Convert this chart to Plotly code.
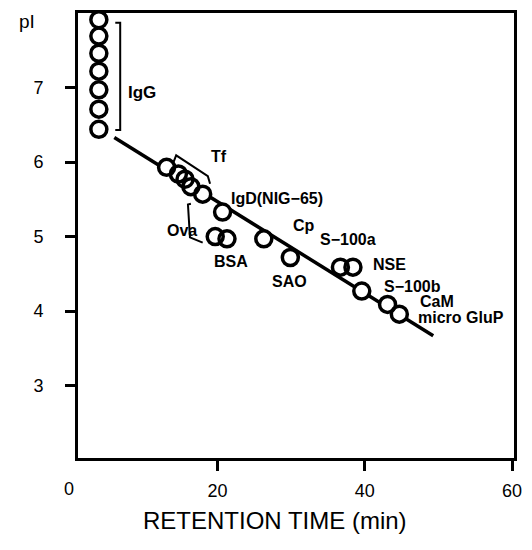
import plotly.graph_objects as go

# ---- data (retention time in min, pI) ----
igg_x = [3.9, 3.9, 3.9, 3.9, 3.9, 3.9, 3.9]
igg_y = [7.91, 7.69, 7.46, 7.22, 6.97, 6.71, 6.44]

tf_x = [13.1, 14.7, 15.6, 16.4, 18.0]
tf_y = [5.93, 5.84, 5.77, 5.67, 5.57]

other_names = ["IgD", "Ova", "BSA", "Cp", "SAO", "S-100a", "NSE", "S-100b", "CaM", "micro GluP"]
other_x = [20.7, 19.7, 21.3, 26.3, 29.9, 36.7, 38.4, 39.6, 43.1, 44.7]
other_y = [5.33, 5.00, 4.97, 4.97, 4.72, 4.59, 4.59, 4.27, 4.09, 3.96]

fit_x = [6.0, 49.3]
fit_y = [6.33, 3.67]

# brackets (data coords)
igg_br_x = [6.13, 6.8, 6.8, 6.13]
igg_br_y = [7.87, 7.87, 6.43, 6.43]
tf_br_x = [14.0, 14.4, 18.7, 19.0]
tf_br_y = [5.99, 6.09, 5.81, 5.71]
ova_br_x = [16.4, 16.0, 16.27, 18.0]
ova_br_y = [5.44, 5.43, 4.99, 4.92]

labels = ["IgG", "Tf", "IgD(NIG\u221265)", "Ova", "BSA", "Cp", "SAO",
          "S\u2212100a", "NSE", "S\u2212100b", "CaM", "micro GluP"]
label_x = [7.6, 18.9, 21.6, 12.9, 19.3, 30.0, 27.1, 33.7, 40.9, 42.3, 47.3, 46.9]
label_y = [6.93, 6.08, 5.51, 5.08, 4.67, 5.15, 4.40, 4.96, 4.63, 4.33, 4.13, 3.91]

x_ticks = [20, 40, 60]
y_ticks = [3, 4, 5, 6, 7]

FONT = "Liberation Sans, Arial, sans-serif"

# plot area in pixels
ML, MR, MT, MB = 78, 10, 10, 92
W, H = 532, 550
PW, PH = W - ML - MR, H - MT - MB


def px_to_paper(px, py):
    return (px - ML) / PW, (H - MB - py) / PH


all_x = igg_x + tf_x + other_x
all_y = igg_y + tf_y + other_y

fig = go.Figure()

fig.add_trace(go.Scatter(x=fit_x, y=fit_y, mode="lines",
                         line=dict(color="black", width=3.5), hoverinfo="skip"))
for bx, by in [(igg_br_x, igg_br_y), (tf_br_x, tf_br_y), (ova_br_x, ova_br_y)]:
    fig.add_trace(go.Scatter(x=bx, y=by, mode="lines",
                             line=dict(color="black", width=2), hoverinfo="skip"))
fig.add_trace(go.Scatter(x=all_x, y=all_y, mode="markers", cliponaxis=False,
                         marker=dict(symbol="circle", size=17, color="white",
                                     line=dict(width=0))))
fig.add_trace(go.Scatter(x=all_x, y=all_y, mode="markers", cliponaxis=False,
                         marker=dict(symbol="circle-open", size=16, color="black",
                                     line=dict(width=3.5, color="black"))))

for t, lx, ly in zip(labels, label_x, label_y):
    fig.add_annotation(x=lx, y=ly, text="<b>%s</b>" % t, showarrow=False,
                       xanchor="left", yanchor="middle",
                       font=dict(family=FONT, size=17 if t == "IgG" else 16, color="black"))

# "0" tick label sits left of the frame
zx, zy = px_to_paper(69, 489)
fig.add_annotation(x=zx, y=zy, xref="paper", yref="paper", text="0",
                   showarrow=False, xanchor="center", yanchor="middle",
                   font=dict(family=FONT, size=18, color="black"))
px_, py_ = px_to_paper(26, 19)
fig.add_annotation(x=px_, y=py_, xref="paper", yref="paper", text="pI",
                   showarrow=False, xanchor="center", yanchor="middle",
                   font=dict(family=FONT, size=19, color="black"))
tx, ty = px_to_paper(279, 521)
fig.add_annotation(x=tx, y=ty, xref="paper", yref="paper", text="RETENTION TIME (min)",
                   showarrow=False, xanchor="center", yanchor="middle",
                   font=dict(family=FONT, size=24, color="black"))

fig.update_layout(
    width=W, height=H,
    margin=dict(l=ML, r=MR, t=MT, b=MB),
    paper_bgcolor="white", plot_bgcolor="white",
    showlegend=False,
    font=dict(family=FONT, size=18, color="black"),
    xaxis=dict(range=[1.07, 60.27], tickvals=x_ticks, ticks="outside", ticklen=10,
               tickwidth=3, tickcolor="black", showline=True, linewidth=3,
               linecolor="black", mirror=True, showgrid=False, zeroline=False,
               ticklabelstandoff=4, tickfont=dict(size=18)),
    yaxis=dict(range=[2.03, 8.0], tickvals=y_ticks, ticks="outside", ticklen=10,
               tickwidth=3, tickcolor="black", showline=True, linewidth=3,
               linecolor="black", mirror=True, showgrid=False, zeroline=False,
               ticklabelstandoff=18, tickfont=dict(size=18)),
)

fig.write_html("out.html")
